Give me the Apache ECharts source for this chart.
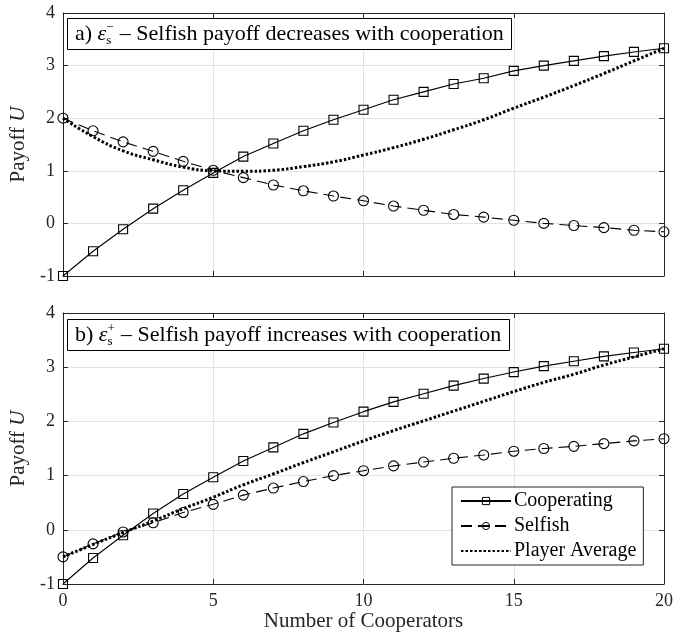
<!DOCTYPE html>
<html><head><meta charset="utf-8">
<script src="https://cdn.jsdelivr.net/npm/echarts@6/dist/echarts.min.js"></script>
<style>html,body{margin:0;padding:0;background:#fff}#c{width:676px;height:641px}</style>
</head><body><div id="c"></div>
<script>
// Number of cooperators (x)
const cooperators = [0,1,2,3,4,5,6,7,8,9,10,11,12,13,14,15,16,17,18,19,20];
// Panel a) eps_s^- : selfish payoff decreases with cooperation
const coopA = [-1.00,-0.53,-0.11,0.28,0.63,0.96,1.27,1.52,1.76,1.97,2.16,2.35,2.50,2.65,2.76,2.90,3.00,3.09,3.18,3.26,3.33];
const selfA = [2.00,1.76,1.55,1.37,1.18,1.01,0.87,0.73,0.62,0.52,0.43,0.33,0.25,0.17,0.12,0.06,0.00,-0.04,-0.08,-0.13,-0.16];
const avgA  = [2.00,1.65,1.38,1.21,1.07,1.00,0.99,1.01,1.08,1.17,1.30,1.44,1.60,1.78,1.97,2.19,2.40,2.62,2.85,3.09,3.33];
// Panel b) eps_s^+ : selfish payoff increases with cooperation
const coopB = [-1.00,-0.52,-0.10,0.30,0.66,0.97,1.27,1.52,1.77,1.98,2.18,2.36,2.51,2.66,2.79,2.91,3.02,3.11,3.20,3.27,3.34];
const selfB = [-0.50,-0.26,-0.04,0.13,0.32,0.47,0.64,0.77,0.89,1.00,1.09,1.18,1.25,1.32,1.38,1.45,1.50,1.54,1.59,1.64,1.68];
const avgB  = [-0.50,-0.27,-0.05,0.16,0.39,0.60,0.83,1.03,1.24,1.44,1.64,1.83,2.01,2.19,2.37,2.55,2.72,2.87,3.04,3.19,3.34];
// Axis ticks
const xTicks = [0,5,10,15,20];
const yTicks = [-1,0,1,2,3,4];
const seriesNames = ['Cooperating','Selfish','Player Average'];
const titleA = ['a) ', 'ε', '−', 's', ' – Selfish payoff decreases with cooperation'];
const titleB = ['b) ', 'ε', '+', 's', ' – Selfish payoff increases with cooperation'];

const FONT = 'Liberation Serif';
const AX = '#262626';
const pairs = (ys) => cooperators.map((x, i) => [x, ys[i]]);

function xAx(grid, main) {
  return {
    type: 'value', gridIndex: grid, min: xTicks[0], max: xTicks[xTicks.length-1],
    interval: xTicks[1]-xTicks[0], position: main ? 'bottom' : 'top',
    axisLine: {show: true, onZero: false, lineStyle: {color: AX, width: 1}},
    axisTick: {show: true, inside: true, length: 5, lineStyle: {color: AX}},
    axisLabel: {show: main && grid === 1, color: AX, fontFamily: FONT, fontSize: 18, margin: 8},
    splitLine: {show: main, lineStyle: {color: '#e3e3e3', width: 1}},
    name: (main && grid === 1) ? 'Number of Cooperators' : '',
    nameLocation: 'middle', nameGap: 27,
    nameTextStyle: {color: AX, fontFamily: FONT, fontSize: 21}
  };
}
function yAx(grid, main) {
  return {
    type: 'value', gridIndex: grid, min: yTicks[0], max: yTicks[yTicks.length-1],
    interval: yTicks[1]-yTicks[0], position: main ? 'left' : 'right',
    axisLine: {show: true, onZero: false, lineStyle: {color: AX, width: 1}},
    axisTick: {show: true, inside: true, length: 5, lineStyle: {color: AX}},
    axisLabel: {show: main, color: AX, fontFamily: FONT, fontSize: 18, margin: 8},
    splitLine: {show: main, lineStyle: {color: '#e3e3e3', width: 1}},
    name: main ? '{n|Payoff }{u|U}' : '',
    nameLocation: 'middle', nameGap: 34,
    nameTextStyle: {color: AX, fontFamily: FONT, fontSize: 21,
      rich: {n: {fontFamily: FONT, fontSize: 21, color: AX}, u: {fontFamily: FONT, fontSize: 21, fontStyle: 'italic', color: AX}}}
  };
}
function mkSeries(grid, coop, self, avg) {
  const ax = {xAxisIndex: grid*2, yAxisIndex: grid*2};
  return [
    Object.assign({name: seriesNames[0], type: 'line', data: pairs(coop), symbol: 'rect', symbolSize: 9, showAllSymbol: true,
      lineStyle: {color: '#000', width: 1.1, type: 'solid'},
      itemStyle: {color: 'rgba(0,0,0,0)', borderColor: '#000', borderWidth: 1.1}, z: 3}, ax),
    Object.assign({name: seriesNames[1], type: 'line', data: pairs(self), symbol: 'circle', symbolSize: 10, showAllSymbol: true,
      lineStyle: {color: '#000', width: 1.1, type: [11, 6]},
      itemStyle: {color: 'rgba(0,0,0,0)', borderColor: '#000', borderWidth: 1.1}, z: 3}, ax),
    Object.assign({name: seriesNames[2], type: 'line', data: pairs(avg), symbol: 'none', smooth: true,
      lineStyle: {color: '#000', width: 3, type: [2.5, 2]},
      itemStyle: {color: '#000'}, z: 4}, ax)
  ];
}
function mkTitle(parts, top) {
  return {
    text: parts[0] + '{e|' + parts[1] + '}{sup|' + parts[2] + '}{sub|' + parts[3] + '}{r|' + parts[4] + '}',
    left: 67, top: top, padding: [3, 8, 3, 8],
    borderColor: '#000', borderWidth: 1, backgroundColor: '#fff',
    textStyle: {fontFamily: FONT, fontSize: 22, fontWeight: 'normal', color: '#000', lineHeight: 26,
      rich: {
        e: {fontFamily: FONT, fontSize: 22, fontStyle: 'italic', color: '#000', lineHeight: 26},
        sup: {fontFamily: FONT, fontSize: 13, color: '#000', width: 0, verticalAlign: 'top', lineHeight: 13},
        sub: {fontFamily: FONT, fontSize: 13, color: '#000', verticalAlign: 'bottom', lineHeight: 13, padding: [0, 3, 0, 0]},
        r: {fontFamily: FONT, fontSize: 22, color: '#000', lineHeight: 26}
      }}
  };
}

const chart = echarts.init(document.getElementById('c'), null, {renderer: 'canvas'});
chart.setOption({
  animation: false,
  backgroundColor: '#fff',
  title: [mkTitle(titleA, 18), mkTitle(titleB, 319)],
  grid: [
    {left: 60, right: 12, top: 13, height: 263},
    {left: 60, right: 12, top: 313, height: 271}
  ],
  xAxis: [xAx(0, true), xAx(0, false), xAx(1, true), xAx(1, false)],
  yAxis: [yAx(0, true), yAx(0, false), yAx(1, true), yAx(1, false)],
  legend: {
    data: [
      {name: seriesNames[0], itemStyle: {color: 'rgba(0,0,0,0)', borderColor: '#000', borderWidth: 1}},
      {name: seriesNames[1], itemStyle: {color: 'rgba(0,0,0,0)', borderColor: '#000', borderWidth: 1}},
      {name: seriesNames[2], itemStyle: {color: 'rgba(0,0,0,0)', borderWidth: 0, borderColor: 'rgba(0,0,0,0)'}}
    ],
    orient: 'vertical', left: 452, top: 487,
    itemWidth: 50, itemHeight: 9, itemGap: 5,
    padding: [4, 7, 4, 8],
    borderColor: '#262626', borderWidth: 1, backgroundColor: '#fff',
    textStyle: {fontFamily: FONT, fontSize: 20, color: '#000', padding: [0, 0, 0, -2]},
    selectedMode: false
  },
  series: [...mkSeries(0, coopA, selfA, avgA), ...mkSeries(1, coopB, selfB, avgB)]
});
</script></body></html>
